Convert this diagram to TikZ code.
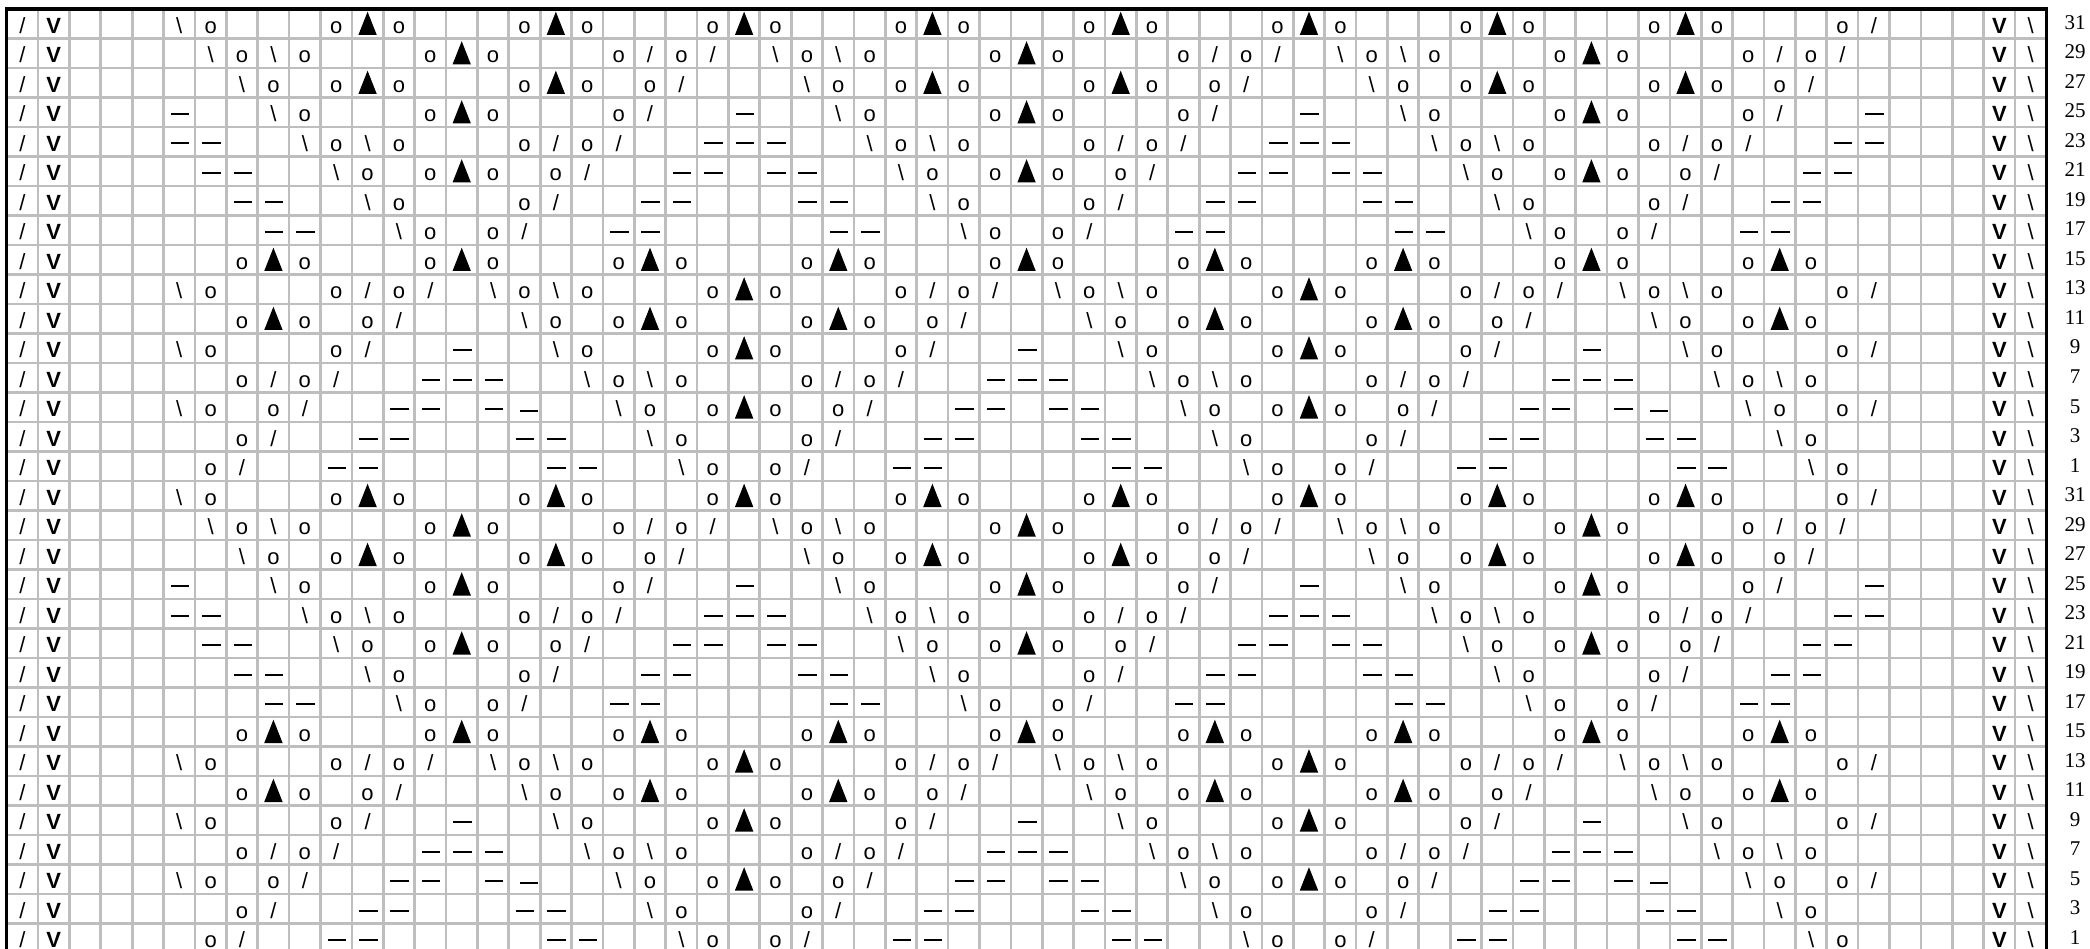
\documentclass[tikz,border=0pt]{standalone}
\usepackage{fontspec}
\setmainfont{Liberation Serif}
\newfontfamily\chartsans{Liberation Sans}
\definecolor{gridgray}{HTML}{BEBEBE}
\def\W{31.38}\def\H{29.5}\def\XO{6.7}\def\YO{9}
% symbol drawers: #1 = centre x, #2 = row top y, #3 = node name
\newcommand\kco[3]{\node[sym] (#3) at (#1,#2+24.3) {o};}
\newcommand\kcf[3]{\node[sym] (#3) at (#1,#2+24.3) {/};}
\newcommand\kcb[3]{\node[sym] (#3) at (#1,#2+24.3) {\textbackslash};}
\newcommand\kcV[3]{\node[sym,font=\chartsans\bfseries\fontsize{22}{22}\selectfont] (#3) at (#1,#2+24.3) {V};}
\newcommand\kcT[3]{\fill (#1-9.2,#2+26) -- (#1,#2+2.7) -- (#1+9.2,#2+26) -- cycle;}
\newcommand\kcd[3]{\draw[dashmark] (#1-8.5,#2+16.5) -- (#1+10,#2+16.5);}
\newcommand\kcL[3]{\draw[dashmark] (#1-4,#2+18.5) -- (#1+14,#2+18.5);}
\let\kcx\kcL
\let\kcy\kcd
% mirror images
\def\kmo{o}\def\kmf{b}\def\kmb{f}\def\kmV{V}\def\kmT{T}\def\kmd{d}\def\kmL{L}
\def\kmx{d}\def\kmy{L}
\begin{document}
\begin{tikzpicture}[x=1pt,y=-1pt,
  sym/.style={inner sep=0pt,outer sep=0pt,anchor=base,font=\chartsans\fontsize{22}{22}\selectfont},
  lab/.style={inner sep=0pt,outer sep=0pt,anchor=base,font=\fontsize{21}{21}\selectfont},
  gridline/.style={line width=2.7pt,draw=gridgray},
  dashmark/.style={line width=2pt},
  border/.style={line width=3.5pt,draw=black}]
\useasboundingbox (0,0) rectangle (2090,949);
% grid
\foreach \ci in {0,...,65}
  \draw[gridline] (\XO+\ci*\W,\YO) -- (\XO+\ci*\W,960);
\foreach \ri in {0,...,32}
  \draw[gridline] (\XO,\YO+\ri*\H) -- (\XO+65*\W,\YO+\ri*\H);
\draw[border] (\XO,960) -- (\XO,\YO) -- (\XO+65*\W,\YO) -- (\XO+65*\W,960);
% symbols (left half given, right half mirrored about column 33)
\foreach \hh in {0,16}{
 \foreach \ri/\lst in {
  1/{1/f,2/V,6/b,7/o,11/o,12/T,13/o,17/o,18/T,19/o,23/o,24/T,25/o,29/o,30/T,31/o},
  2/{1/f,2/V,7/b,8/o,9/b,10/o,14/o,15/T,16/o,20/o,21/f,22/o,23/f,25/b,26/o,27/b,28/o,32/o,33/T},
  3/{1/f,2/V,8/b,9/o,11/o,12/T,13/o,17/o,18/T,19/o,21/o,22/f,26/b,27/o,29/o,30/T,31/o},
  4/{1/f,2/V,6/d,9/b,10/o,14/o,15/T,16/o,20/o,21/f,24/d,27/b,28/o,32/o,33/T},
  5/{1/f,2/V,6/d,7/d,10/b,11/o,12/b,13/o,17/o,18/f,19/o,20/f,23/d,24/d,25/d,28/b,29/o,30/b,31/o},
  6/{1/f,2/V,7/d,8/d,11/b,12/o,14/o,15/T,16/o,18/o,19/f,22/d,23/d,25/d,26/d,29/b,30/o,32/o,33/T},
  7/{1/f,2/V,8/d,9/d,12/b,13/o,17/o,18/f,21/d,22/d,26/d,27/d,30/b,31/o},
  8/{1/f,2/V,9/d,10/d,13/b,14/o,16/o,17/f,20/d,21/d,27/d,28/d,31/b,32/o},
  9/{1/f,2/V,8/o,9/T,10/o,14/o,15/T,16/o,20/o,21/T,22/o,26/o,27/T,28/o,32/o,33/T},
  10/{1/f,2/V,6/b,7/o,11/o,12/f,13/o,14/f,16/b,17/o,18/b,19/o,23/o,24/T,25/o,29/o,30/f,31/o,32/f},
  11/{1/f,2/V,8/o,9/T,10/o,12/o,13/f,17/b,18/o,20/o,21/T,22/o,26/o,27/T,28/o,30/o,31/f},
  12/{1/f,2/V,6/b,7/o,11/o,12/f,15/d,18/b,19/o,23/o,24/T,25/o,29/o,30/f,33/d},
  13/{1/f,2/V,8/o,9/f,10/o,11/f,14/d,15/d,16/d,19/b,20/o,21/b,22/o,26/o,27/f,28/o,29/f,32/d,33/d},
  14/{1/f,2/V,6/b,7/o,9/o,10/f,13/y,14/d,16/d,17/x,20/b,21/o,23/o,24/T,25/o,27/o,28/f,31/d,32/d},
  15/{1/f,2/V,8/o,9/f,12/d,13/d,17/d,18/d,21/b,22/o,26/o,27/f,30/d,31/d},
  16/{1/f,2/V,7/o,8/f,11/d,12/d,18/d,19/d,22/b,23/o,25/o,26/f,29/d,30/d}}{
  \pgfmathsetmacro\yt{\YO+(\ri+\hh-1)*\H}
  \pgfmathtruncatemacro\rr{\ri+\hh}
  \foreach \cc/\si in \lst {
    \pgfmathsetmacro\cx{\XO+(\cc-0.5)*\W}
    \csname kc\si\endcsname{\cx}{\yt}{s\rr-\cc}
    \ifnum\cc<33
      \pgfmathsetmacro\mx{\XO+(65.5-\cc)*\W}
      \pgfmathtruncatemacro\mc{66-\cc}
      \edef\ms{\csname km\si\endcsname}
      \csname kc\ms\endcsname{\mx}{\yt}{s\rr-\mc}
    \fi
  }
 }
}
% row labels
\foreach \ri in {1,...,32}{
  \pgfmathtruncatemacro\lb{31-2*mod(\ri-1,16)}
  \node[lab] (lab\ri) at (2075,\YO+\ri*\H-\H+20.5) {\lb};
}
\end{tikzpicture}
\end{document}
